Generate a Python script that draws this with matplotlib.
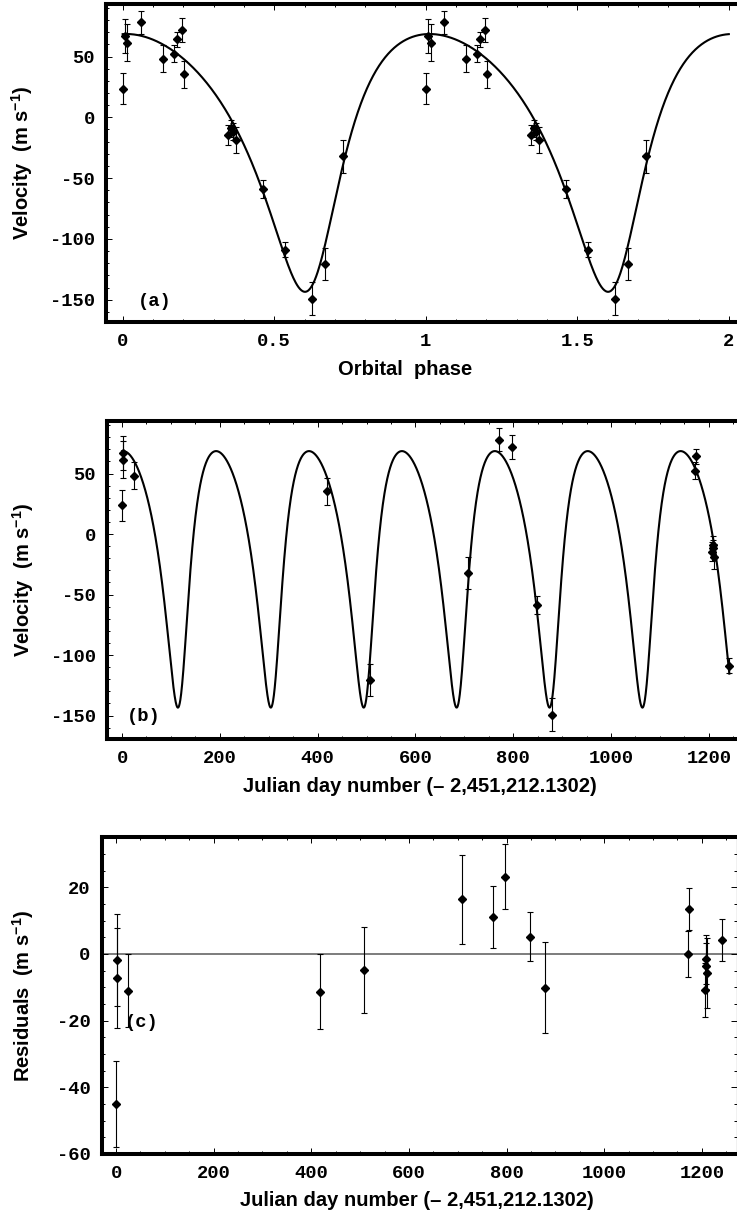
import numpy as np
import matplotlib
matplotlib.use("Agg")
import matplotlib.pyplot as plt
from matplotlib.ticker import MultipleLocator, FuncFormatter

# observations, days after JD 2,451,212.1302
days = [0.0, 1.4, 3.0, 25.0, 418.6, 507.0, 708.0, 771.6, 797.0, 848.0, 878.7,
        1172.4, 1173.8, 1206.0, 1208.0, 1209.0, 1211.0, 1242.0]
vel = [23.7, 67.0, 61.5, 48.2, 35.5, -120.7, -32.0, 78.0, 72.0, -58.7, -149.3,
       52.3, 64.2, -14.6, -9.1, -11.8, -18.7, -108.8]
err = [13.0, 13.8, 15.0, 11.0, 11.2, 12.9, 13.4, 9.3, 9.7, 7.4, 13.6,
       6.9, 6.3, 8.1, 7.3, 7.0, 10.5, 6.2]
resid = [-45.0, -1.8, -7.3, -11.0, -11.3, -4.9, 16.4, 11.0, 23.2, 5.2, -10.1,
         0.0, 13.4, -10.8, -1.6, -3.6, -5.8, 4.2]

# keplerian fit
period = 190.0
ecc = 0.34
omega = 203.0
K = 106.0
gamma = -4.3
t_peri = 120.0
curve_end = 1242.0


def rv_model(t):
    M = 2 * np.pi * (np.asarray(t, dtype=float) - t_peri) / period
    E = M.copy()
    for _ in range(60):
        E = E - (E - ecc * np.sin(E) - M) / (1 - ecc * np.cos(E))
    nu = 2 * np.arctan2(np.sqrt(1 + ecc) * np.sin(E / 2),
                        np.sqrt(1 - ecc) * np.cos(E / 2))
    w = np.radians(omega)
    return gamma + K * (np.cos(nu + w) + ecc * np.cos(w))


plt.rcParams['font.family'] = 'Liberation Mono'
plt.rcParams['font.weight'] = 'bold'
plt.rcParams['axes.unicode_minus'] = False
plt.rcParams['mathtext.fontset'] = 'custom'
plt.rcParams['mathtext.rm'] = 'Liberation Sans'
plt.rcParams['mathtext.it'] = 'Liberation Sans:italic'

W, H = 737, 1220
fig = plt.figure(figsize=(W / 100, H / 100), dpi=100)


def px_axes(left, top, right, bottom):
    return fig.add_axes([left / W, 1 - bottom / H, (right - left) / W, (bottom - top) / H])


label_font = dict(family='Liberation Sans', weight='bold', size=14.5)
tick_size = 13.5


def style(ax, right_spine):
    for s in ['left', 'top', 'bottom']:
        ax.spines[s].set_linewidth(2.9)
    ax.spines['right'].set_visible(right_spine)
    ax.spines['right'].set_linewidth(0.8)
    ax.tick_params(which='both', direction='in', top=True, right=right_spine,
                   width=0.7, labelsize=tick_size, pad=8)
    ax.tick_params(which='major', length=4.5)
    ax.tick_params(which='minor', length=2.5)


eb = dict(fmt='D', color='black', ms=4.5, elinewidth=0.8, capsize=2.5,
          capthick=0.8, zorder=3)

# (a) phase-folded
ax1 = px_axes(106, 4, 737, 322)
phase = np.array(days) / period % 1
ph = np.linspace(0, 2, 800)
ax1.plot(ph, rv_model(ph * period), color='black', lw=1.5)
for off in [0, 1]:
    ax1.errorbar(phase + off, vel, yerr=err, **eb)
ax1.set_xlim(-0.055, 2.027)
ax1.set_ylim(-168.3, 93.2)
ax1.xaxis.set_major_locator(MultipleLocator(0.5))
ax1.xaxis.set_minor_locator(MultipleLocator(0.1))
ax1.yaxis.set_major_locator(MultipleLocator(50))
ax1.yaxis.set_minor_locator(MultipleLocator(10))
ax1.xaxis.set_major_formatter(FuncFormatter(lambda v, p: '%g' % v))
style(ax1, False)
ax1.set_xlabel('Orbital  phase', **label_font)
ax1.set_ylabel('Velocity  (m s$^{-1}$)', **label_font)
ax1.xaxis.set_label_coords(0.474, -0.118)
ax1.yaxis.set_label_coords(-0.112, 0.5)
ax1.text(0.05, -151.8, '(a)', ha='left', va='center', fontsize=tick_size)

# (b) time series
ax2 = px_axes(107, 421, 737, 739)
t = np.linspace(0, curve_end, 3000)
ax2.plot(t, rv_model(t), color='black', lw=1.5)
ax2.errorbar(days, vel, yerr=err, **eb)
ax2.set_xlim(-30.7, 1257.7)
ax2.set_ylim(-169.4, 93.4)
ax2.xaxis.set_major_locator(MultipleLocator(200))
ax2.xaxis.set_minor_locator(MultipleLocator(50))
ax2.yaxis.set_major_locator(MultipleLocator(50))
ax2.yaxis.set_minor_locator(MultipleLocator(10))
style(ax2, False)
ax2.set_xlabel('Julian day number (\u2013 2,451,212.1302)', **label_font)
ax2.set_ylabel('Velocity  (m s$^{-1}$)', **label_font)
ax2.xaxis.set_label_coords(0.497, -0.118)
ax2.yaxis.set_label_coords(-0.113, 0.5)
ax2.text(10, -150.4, '(b)', ha='left', va='center', fontsize=tick_size)

# (c) residuals
ax3 = px_axes(101.7, 837, 736.5, 1154)
ax3.axhline(0, color='#666666', lw=1.2, zorder=1)
ax3.errorbar(days, resid, yerr=err, **eb)
ax3.set_xlim(-29.3, 1270.9)
ax3.set_ylim(-60, 35.1)
ax3.xaxis.set_major_locator(MultipleLocator(200))
ax3.xaxis.set_minor_locator(MultipleLocator(50))
ax3.yaxis.set_major_locator(MultipleLocator(20))
ax3.yaxis.set_minor_locator(MultipleLocator(5))
style(ax3, True)
ax3.set_xlabel('Julian day number (\u2013 2,451,212.1302)', **label_font)
ax3.set_ylabel('Residuals  (m s$^{-1}$)', **label_font)
ax3.xaxis.set_label_coords(0.497, -0.118)
ax3.yaxis.set_label_coords(-0.104, 0.5)
ax3.text(18, -20.6, '(c)', ha='left', va='center', fontsize=tick_size)

fig.savefig('out.png', dpi=100)
